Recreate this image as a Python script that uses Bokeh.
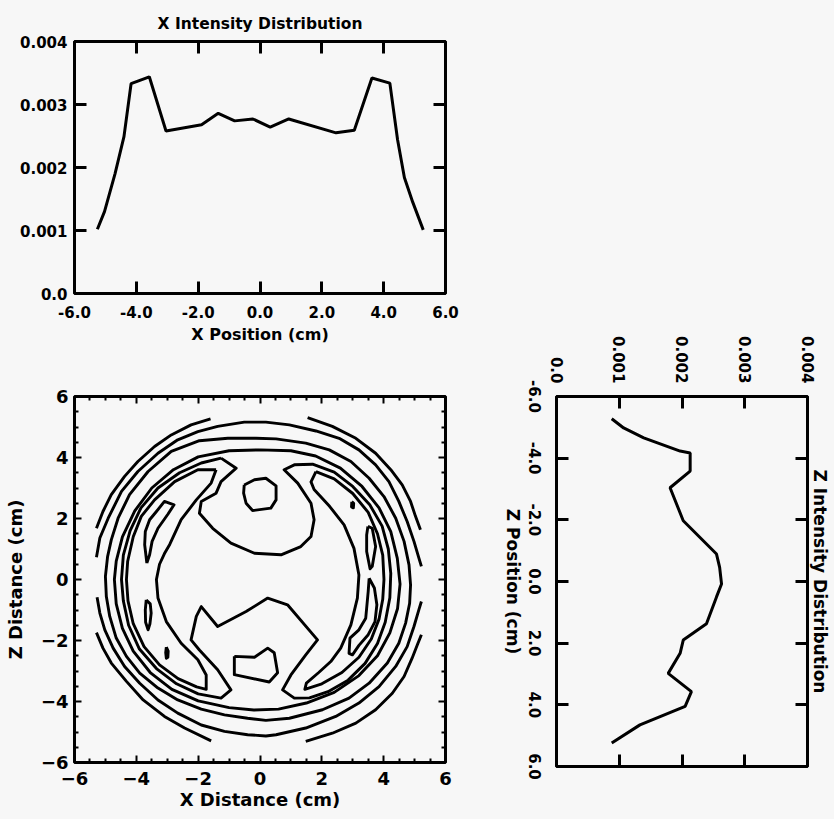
import math

from bokeh.embed import file_html
from bokeh.layouts import column, row
from bokeh.models import (CustomJSTickFormatter, FixedTicker, LinearAxis,
                          PrintfTickFormatter, Range1d, Title)
from bokeh.plotting import figure
from bokeh.resources import INLINE

# ---------------------------------------------------------------- data
# X intensity profile (position in cm, intensity)
x_position = [-5.26, -5.03, -4.69, -4.40, -4.17, -3.58, -3.04, -1.89, -1.35, -0.82,
              -0.23, 0.33, 0.93, 2.46, 3.05, 3.62, 4.20, 4.45, 4.67, 4.94, 5.28]
x_intensity = [0.00102, 0.00130, 0.00190, 0.00249, 0.00333, 0.00344, 0.00258,
               0.00268, 0.00286, 0.00274, 0.00277, 0.00264, 0.00277, 0.00255,
               0.00259, 0.00342, 0.00334, 0.00244, 0.00184, 0.00145, 0.00101]

# Z intensity profile (position in cm, intensity)
z_position = [-5.28, -4.98, -4.66, -4.23, -4.17, -3.58, -3.04, -1.97, -0.89, -0.46,
              0.08, 0.50, 1.37, 1.90, 2.33, 2.98, 3.57, 4.05, 4.65, 5.24]
z_intensity = [0.00088, 0.00107, 0.00139, 0.00197, 0.00213, 0.00213, 0.00181,
               0.00202, 0.00255, 0.00260, 0.00263, 0.00255, 0.00239, 0.00202,
               0.00197, 0.00178, 0.00215, 0.00205, 0.00133, 0.00088]

# Iso-intensity contours in the X-Z plane, (x cm, z cm) vertices
arc_top_left = [(-1.60, 5.27), (-2.23, 5.07), (-2.87, 4.74), (-3.41, 4.36), (-3.95, 3.87),
                (-4.38, 3.38), (-4.81, 2.78), (-5.08, 2.23), (-5.29, 1.68)]
arc_top_right = [(1.54, 5.31), (2.34, 5.02), (3.10, 4.63), (3.74, 4.14), (4.23, 3.60),
                 (4.60, 3.10), (4.87, 2.56), (5.03, 2.07), (5.19, 1.63)]
arc_bottom_left = [(-5.29, -1.74), (-5.08, -2.25), (-4.81, -2.74), (-4.32, -3.34),
                   (-3.78, -3.95), (-3.09, -4.49), (-2.44, -4.87), (-1.58, -5.29)]
arc_bottom_right = [(1.48, -5.31), (2.34, -5.04), (3.10, -4.71), (3.74, -4.27),
                    (4.28, -3.73), (4.66, -3.18), (4.92, -2.58), (5.09, -2.14), (5.22, -1.81)]

band_top = [(-5.29, 0.73), (-5.18, 1.36), (-4.91, 2.01), (-4.48, 2.89), (-3.95, 3.54),
            (-3.30, 4.14), (-2.66, 4.58), (-2.01, 4.85), (-1.37, 5.02), (-0.51, 5.16),
            (0.19, 5.16), (0.95, 5.07), (1.81, 4.87), (2.56, 4.63), (3.20, 4.25),
            (3.74, 3.76), (4.17, 3.21), (4.49, 2.56), (4.76, 1.90), (4.98, 1.25),
            (5.14, 0.70), (5.22, 0.43)]
band_bottom = [(-5.27, -0.58), (-5.18, -1.10), (-5.02, -1.65), (-4.75, -2.25),
               (-4.38, -2.85), (-3.89, -3.40), (-3.30, -3.95), (-2.66, -4.38),
               (-1.90, -4.77), (-1.15, -4.98), (-0.40, -5.09), (0.19, -5.13),
               (0.52, -5.09), (1.48, -4.87), (2.45, -4.49), (3.20, -4.05),
               (3.85, -3.51), (4.39, -2.85), (4.76, -2.20), (4.98, -1.54),
               (5.14, -0.99), (5.22, -0.72)]

ring_outer = [(-0.13, 4.63), (0.52, 4.61), (1.48, 4.47), (2.24, 4.25), (2.94, 3.87),
              (3.53, 3.32), (4.01, 2.72), (4.39, 2.01), (4.66, 1.25), (4.82, 0.48),
              (4.87, -0.18), (4.84, -0.78), (4.71, -1.43), (4.49, -2.09), (4.12, -2.74),
              (3.53, -3.40), (2.88, -3.89), (2.02, -4.27), (0.95, -4.55), (0.19, -4.62),
              (-0.40, -4.55), (-1.15, -4.44), (-1.90, -4.25), (-2.66, -3.95),
              (-3.30, -3.56), (-3.89, -3.07), (-4.32, -2.52), (-4.65, -1.92),
              (-4.86, -1.21), (-4.97, -0.56), (-5.00, 0.10), (-4.93, 0.75),
              (-4.81, 1.30), (-4.59, 2.01), (-4.22, 2.78), (-3.62, 3.54), (-2.87, 4.20),
              (-1.96, 4.55), (-1.04, 4.63), (-0.13, 4.63)]

ring_inner = [(0.0, 4.25), (1.0, 4.22), (1.8, 4.05), (2.6, 3.65), (3.3, 3.05),
              (3.85, 2.35), (4.23, 1.57), (4.44, 0.70), (4.53, -0.15), (4.45, -0.95),
              (4.2, -1.75), (3.8, -2.5), (3.2, -3.15), (2.4, -3.7), (1.5, -4.05),
              (0.6, -4.25), (-0.2, -4.28), (-1.0, -4.2), (-2.0, -3.98), (-2.85, -3.6),
              (-3.55, -3.05), (-4.1, -2.35), (-4.45, -1.6), (-4.65, -0.8), (-4.71, 0.0),
              (-4.65, 0.6), (-4.45, 1.4), (-4.05, 2.25), (-3.5, 3.0), (-2.8, 3.6),
              (-2.0, 4.02), (-1.0, 4.22), (0.0, 4.25)]

ring_folded = [(-1.26, 3.98), (-0.77, 3.65), (-1.26, 3.21), (-1.42, 2.83), (-1.90, 2.56),
               (-1.96, 2.17), (-1.53, 1.68), (-0.94, 1.19), (-0.18, 0.86), (0.68, 0.81),
               (1.32, 1.08), (1.65, 1.41), (1.75, 1.96), (1.65, 2.50), (1.22, 3.16),
               (0.78, 3.60), (1.11, 3.76), (1.7, 3.78), (2.4, 3.52), (3.0, 3.05),
               (3.55, 2.45), (3.95, 1.75), (4.15, 1.0), (4.23, 0.2), (4.2, -0.6),
               (4.05, -1.4), (3.8, -2.1), (3.4, -2.75), (2.85, -3.3), (2.2, -3.68),
               (1.6, -3.88), (1.11, -3.89), (0.73, -3.62), (1.00, -3.13), (1.48, -2.47),
               (1.86, -1.98), (0.89, -0.83), (0.25, -0.61), (-0.45, -1.05),
               (-1.37, -1.54), (-1.90, -0.89), (-2.06, -1.21), (-2.23, -1.98),
               (-1.96, -2.31), (-1.37, -2.96), (-0.94, -3.62), (-1.26, -3.89),
               (-2.0, -3.75), (-2.7, -3.42), (-3.35, -2.92), (-3.9, -2.28), (-4.25, -1.5),
               (-4.42, -0.7), (-4.48, 0.0), (-4.42, 0.8), (-4.2, 1.6), (-3.85, 2.35),
               (-3.3, 3.0), (-2.6, 3.5), (-1.9, 3.82), (-1.26, 3.98)]

wing_left = [(-1.42, 3.60), (-2.01, 3.60), (-2.76, 3.21), (-3.41, 2.61), (-3.84, 2.07),
             (-4.1, 1.4), (-4.28, 0.6), (-4.32, 0.0), (-4.27, -0.7), (-4.1, -1.45),
             (-3.75, -2.2), (-3.25, -2.8), (-2.65, -3.25), (-2.05, -3.52), (-1.74, -3.6),
             (-1.74, -3.13), (-2.01, -2.63), (-2.55, -2.09), (-3.03, -1.38), (-3.30, -0.61),
             (-3.35, 0.0), (-3.25, 0.5), (-3.09, 0.85), (-2.92, 1.15), (-2.55, 1.96),
             (-2.06, 2.61), (-1.58, 3.16), (-1.42, 3.60)]
wing_right = [(1.81, 3.54), (2.4, 3.3), (3.0, 2.82), (3.5, 2.2), (3.8, 1.5), (3.97, 0.8),
              (4.01, 0.0), (3.97, -0.65), (3.85, -1.3), (3.6, -1.95), (3.2, -2.55),
              (2.65, -3.05), (2.0, -3.42), (1.45, -3.6), (1.5, -3.4), (1.9, -3.05),
              (2.29, -2.69), (2.61, -2.25), (2.94, -1.49), (3.15, -0.61), (3.2, 0.15),
              (3.04, 1.02), (2.72, 1.79), (2.25, 2.4), (1.75, 2.95), (1.65, 3.2),
              (1.81, 3.54)]

peak_upper_left = [(-3.66, 0.54), (-3.73, 1.14), (-3.71, 1.57), (-3.57, 1.96), (-3.35, 2.23),
                   (-3.09, 2.56), (-2.78, 2.45), (-2.98, 2.14), (-3.30, 1.68), (-3.49, 1.25),
                   (-3.57, 0.81), (-3.66, 0.54)]
peak_lower_left = [(-3.68, -0.67), (-3.55, -0.8), (-3.52, -1.1), (-3.56, -1.45),
                   (-3.62, -1.65), (-3.70, -1.4), (-3.71, -1.0), (-3.68, -0.67)]
peak_dot_left = [(-3.03, -2.22), (-2.97, -2.35), (-2.98, -2.55), (-3.03, -2.58),
                 (-3.05, -2.4), (-3.03, -2.22)]
peak_upper_right = [(3.49, 1.74), (3.63, 1.68), (3.74, 1.08), (3.63, 0.43), (3.56, 0.35),
                    (3.45, 0.92), (3.45, 1.46), (3.49, 1.74)]
peak_lower_right = [(3.53, 0.04), (3.70, -0.28), (3.78, -0.83), (3.72, -1.38), (3.50, -1.81),
                    (3.20, -2.16), (2.99, -2.47), (2.88, -2.42), (2.91, -1.92), (3.20, -1.65),
                    (3.42, -1.27), (3.50, -0.39), (3.53, 0.04)]
peak_dot_right = [(2.97, 2.55), (3.03, 2.5), (3.02, 2.35), (2.96, 2.38), (2.97, 2.55)]

centre_top = [(-0.51, 3.10), (-0.18, 3.27), (0.19, 3.32), (0.52, 3.07), (0.52, 2.61),
              (0.35, 2.34), (-0.24, 2.26), (-0.45, 2.50), (-0.53, 2.83), (-0.51, 3.10)]
centre_bottom = [(-0.83, -2.52), (-0.18, -2.55), (0.25, -2.25), (0.46, -2.40),
                 (0.57, -3.06), (0.30, -3.36), (-0.83, -3.12), (-0.83, -2.52)]

contours = [arc_top_left, arc_top_right, arc_bottom_left, arc_bottom_right,
            band_top, band_bottom, ring_outer, ring_inner, ring_folded,
            wing_left, wing_right, peak_upper_left, peak_lower_left, peak_dot_left,
            peak_upper_right, peak_lower_right, peak_dot_right, centre_top, centre_bottom]

profile_ticks = [-6, -4, -2, 0, 2, 4, 6]
intensity_ticks = [0.0, 0.001, 0.002, 0.003, 0.004]
distance_ticks = [-6, -4, -2, 0, 2, 4, 6]
distance_minor = [v / 2 for v in range(-12, 13) if v % 4 != 0]

# ---------------------------------------------------------------- styling
FONT = "DejaVu Sans"
BG = "#f7f7f7"
INTENSITY_FMT = CustomJSTickFormatter(code="return tick == 0 ? '0.0' : tick.toFixed(3);")


def base(p):
    p.background_fill_color = BG
    p.border_fill_color = BG
    p.outline_line_color = "black"
    p.outline_line_width = 3
    p.xgrid.visible = False
    p.ygrid.visible = False


def style_axis(ax, ticks, minor=None, tick_in=12, tick_w=3, size="15px", standoff=8,
               minor_in=0):
    ax.ticker = FixedTicker(ticks=ticks, minor_ticks=minor or [])
    ax.axis_line_color = None
    ax.major_tick_in = tick_in
    ax.major_tick_out = 0
    ax.major_tick_line_width = tick_w
    ax.major_tick_line_color = "black"
    ax.minor_tick_in = minor_in
    ax.minor_tick_out = 0
    ax.minor_tick_line_width = 2
    ax.minor_tick_line_color = "black" if minor else None
    ax.major_label_text_font = FONT
    ax.major_label_text_font_style = "bold"
    ax.major_label_text_font_size = size
    ax.major_label_text_color = "black"
    ax.major_label_standoff = standoff
    ax.axis_label_text_font = FONT
    ax.axis_label_text_font_style = "bold"
    ax.axis_label_text_color = "black"


def mirror(p, side, ticks, minor=None, tick_in=12, tick_w=3, minor_in=0):
    ax = LinearAxis()
    style_axis(ax, ticks, minor, tick_in, tick_w, "0px", 0, minor_in)
    ax.major_label_text_alpha = 0
    p.add_layout(ax, side)


# ---------------------------------------------------------------- X profile
p_top = figure(width=470, height=352, output_backend="svg", toolbar_location=None,
               x_range=Range1d(-6, 6), y_range=Range1d(0, 0.004),
               min_border_left=74, min_border_right=23, min_border_top=41,
               min_border_bottom=59)
base(p_top)
p_top.title.text = "X Intensity Distribution"
p_top.title.align = "center"
p_top.title.text_font = FONT
p_top.title.text_font_size = "15.5px"
p_top.title.text_font_style = "bold"
p_top.title.text_color = "black"
p_top.title.standoff = 17
style_axis(p_top.xaxis[0], profile_ticks, standoff=12)
p_top.xaxis[0].formatter = PrintfTickFormatter(format="%.1f")
p_top.xaxis[0].axis_label = "X Position (cm)"
p_top.xaxis[0].axis_label_text_font_size = "16px"
p_top.xaxis[0].axis_label_standoff = 4
style_axis(p_top.yaxis[0], intensity_ticks, standoff=7)
p_top.yaxis[0].formatter = INTENSITY_FMT
mirror(p_top, "above", profile_ticks)
mirror(p_top, "right", intensity_ticks)
p_top.line(x_position, x_intensity, line_color="black", line_width=3)

# ---------------------------------------------------------------- contour map
p_con = figure(width=470, height=467, output_backend="svg", toolbar_location=None,
               x_range=Range1d(-6, 6), y_range=Range1d(-6, 6),
               min_border_left=73, min_border_right=25, min_border_top=44,
               min_border_bottom=57)
base(p_con)
style_axis(p_con.xaxis[0], distance_ticks, distance_minor, tick_in=7, tick_w=2,
           size="18px", standoff=9, minor_in=4)
p_con.xaxis[0].axis_label = "X Distance (cm)"
p_con.xaxis[0].axis_label_text_font_size = "18px"
p_con.xaxis[0].axis_label_standoff = 1
style_axis(p_con.yaxis[0], distance_ticks, distance_minor, tick_in=7, tick_w=2,
           size="18px", standoff=6, minor_in=4)
p_con.yaxis[0].axis_label = "Z Distance (cm)"
p_con.yaxis[0].axis_label_text_font_size = "18px"
p_con.yaxis[0].axis_label_standoff = 12
mirror(p_con, "above", distance_ticks, distance_minor, tick_in=7, tick_w=2, minor_in=4)
mirror(p_con, "right", distance_ticks, distance_minor, tick_in=7, tick_w=2, minor_in=4)
p_con.multi_line(xs=[[pt[0] for pt in c] for c in contours],
                 ys=[[pt[1] for pt in c] for c in contours],
                 line_color="black", line_width=2.9, line_join="round")

# ---------------------------------------------------------------- Z profile (turned)
RIGHT_H, RIGHT_TOP, RIGHT_BOTTOM = 819, 396, 53

p_right = figure(width=289, height=RIGHT_H, output_backend="svg", toolbar_location=None,
                 x_range=Range1d(0, 0.004), y_range=Range1d(6, -6),
                 x_axis_location="above", y_axis_location="left",
                 min_border_left=11, min_border_right=27, min_border_top=RIGHT_TOP,
                 min_border_bottom=RIGHT_BOTTOM)
base(p_right)
style_axis(p_right.xaxis[0], intensity_ticks, standoff=13)
p_right.xaxis[0].formatter = INTENSITY_FMT
p_right.xaxis[0].major_label_orientation = -math.pi / 2
style_axis(p_right.yaxis[0], profile_ticks, size="0px", standoff=0)
p_right.yaxis[0].major_label_text_alpha = 0
mirror(p_right, "below", intensity_ticks)
mirror(p_right, "right", profile_ticks)
p_right.add_layout(Title(text="Z Intensity Distribution", align="center",
                         text_font=FONT, text_font_size="17px", text_font_style="bold",
                         text_color="black", standoff=5), "right")
p_right.line(z_intensity, z_position, line_color="black", line_width=3)

# Position scale of the turned profile: a narrow companion plot sharing its vertical
# range, whose right-hand axes read top-to-bottom like the rest of that panel.
p_zscale = figure(width=75, height=RIGHT_H, output_backend="svg", toolbar_location=None,
                  x_range=Range1d(0, 1), y_range=p_right.y_range,
                  x_axis_type=None, y_axis_location="right", title=None,
                  min_border_left=0, min_border_right=48, min_border_top=RIGHT_TOP,
                  min_border_bottom=RIGHT_BOTTOM)
p_zscale.background_fill_color = BG
p_zscale.border_fill_color = BG
p_zscale.outline_line_color = None
p_zscale.xgrid.visible = False
p_zscale.ygrid.visible = False
name_axis = p_zscale.yaxis[0]
style_axis(name_axis, [], size="0px", standoff=0, tick_in=0)
name_axis.major_tick_line_color = None
name_axis.axis_label = "Z Position (cm)"
name_axis.axis_label_text_font_size = "17px"
name_axis.axis_label_standoff = 5
tick_axis = LinearAxis()
style_axis(tick_axis, profile_ticks, size="15px", standoff=3, tick_in=0)
tick_axis.major_tick_line_color = None
tick_axis.formatter = PrintfTickFormatter(format="%.1f")
tick_axis.major_label_orientation = "vertical"
p_zscale.add_layout(tick_axis, "right")

left_column = column(p_top, p_con, styles={"background-color": BG})
layout = row(left_column, p_zscale, p_right, styles={"background-color": BG})

with open("out.html", "w") as fh:
    fh.write(file_html(layout, INLINE, title="Intensity distributions"))
